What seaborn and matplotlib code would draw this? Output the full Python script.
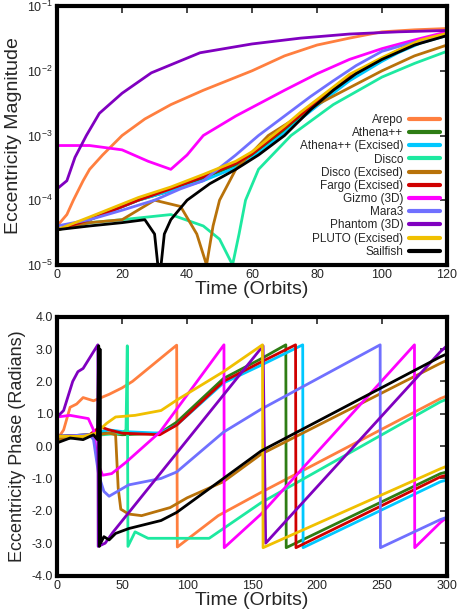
import numpy as np
import pandas as pd
import matplotlib
matplotlib.use("Agg")
import matplotlib.pyplot as plt
import seaborn as sns
from matplotlib.ticker import FixedLocator

sns.set_style("white")
plt.rcParams['font.family'] = ['Liberation Sans', 'DejaVu Sans']

names = ["Arepo", "Athena++", "Athena++ (Excised)", "Disco", "Disco (Excised)",
         "Fargo (Excised)", "Gizmo (3D)", "Mara3", "Phantom (3D)", "PLUTO (Excised)", "Sailfish"]
colors = ["#ff7f3f", "#2e7d14", "#00c8ff", "#1de9a0", "#b8720a",
          "#d00000", "#ff00ff", "#7070ff", "#8000c0", "#f0c000", "#000000"]

# ---- top panel: eccentricity magnitude ----
mag_arepo_t = [0, 3, 5, 8, 10, 14, 20, 27, 35, 45, 60, 70, 80, 90, 100, 110, 120]
mag_arepo_v = [4e-5, 6e-5, 1e-4, 2e-4, 3e-4, 5e-4, 1e-3, 1.8e-3, 3e-3, 5e-3, 1e-2, 1.7e-2, 2.5e-2, 3.2e-2, 4e-2, 4.3e-2, 4.5e-2]
mag_athena_t = [0, 10, 25, 35, 45, 55, 60, 70, 75, 85, 90, 100, 105, 112, 120]
mag_athena_v = [3.5e-5, 5e-5, 1e-4, 1.4e-4, 2.2e-4, 3.5e-4, 5e-4, 1.2e-3, 2e-3, 5e-3, 8e-3, 1.5e-2, 2e-2, 2.8e-2, 3.6e-2]
mag_athx_v = [3.5e-5, 5e-5, 1e-4, 1.4e-4, 2e-4, 3.2e-4, 4.5e-4, 1.1e-3, 1.8e-3, 4.5e-3, 7e-3, 1.4e-2, 1.9e-2, 2.7e-2, 3.5e-2]
mag_fargo_v = [3.5e-5, 5e-5, 1e-4, 1.5e-4, 2.3e-4, 3.7e-4, 5.2e-4, 1.3e-3, 2.1e-3, 5.2e-3, 8.3e-3, 1.55e-2, 2.05e-2, 2.9e-2, 3.7e-2]
mag_pluto_v = [3.5e-5, 5.5e-5, 1.1e-4, 1.6e-4, 2.5e-4, 4e-4, 5.6e-4, 1.4e-3, 2.3e-3, 5.6e-3, 8.8e-3, 1.6e-2, 2.1e-2, 3e-2, 3.8e-2]
mag_disco_t = [0, 10, 20, 35, 45, 50, 54, 56, 58, 62, 72, 85, 100, 110, 120]
mag_disco_v = [3.5e-5, 4.5e-5, 5e-5, 6e-5, 4e-5, 2.5e-5, 1e-5, 3e-5, 1e-4, 3e-4, 1e-3, 3e-3, 8e-3, 1.3e-2, 2e-2]
mag_discox_t = [0, 10, 20, 30, 38, 43, 46, 48, 50, 55, 65, 80, 100, 110, 120]
mag_discox_v = [3.5e-5, 4.5e-5, 5e-5, 1e-4, 8e-5, 3e-5, 1e-5, 4e-5, 1e-4, 3e-4, 1e-3, 3e-3, 1e-2, 1.7e-2, 2.5e-2]
mag_gizmo_t = [0, 10, 20, 28, 35, 40, 45, 55, 70, 80, 90, 100, 110, 120]
mag_gizmo_v = [7e-4, 7e-4, 6e-4, 4e-4, 3e-4, 5e-4, 1e-3, 2e-3, 5e-3, 9e-3, 1.5e-2, 2.2e-2, 3e-2, 4e-2]
mag_mara_t = [0, 10, 20, 30, 38, 45, 55, 62, 70, 78, 85, 92, 100, 110, 120]
mag_mara_v = [4e-5, 5e-5, 7e-5, 1e-4, 1.5e-4, 2e-4, 5e-4, 1e-3, 2e-3, 4e-3, 7e-3, 1.2e-2, 2e-2, 2.8e-2, 3.5e-2]
mag_phantom_t = [0, 3, 5.5, 9, 13, 20, 29, 44, 60, 75, 90, 105, 120]
mag_phantom_v = [1.5e-4, 2e-4, 4.6e-4, 1e-3, 2.2e-3, 4.5e-3, 9.3e-3, 1.9e-2, 2.6e-2, 3.2e-2, 3.7e-2, 4e-2, 4.2e-2]
mag_sail_t = [0, 10, 20, 27, 30, 31, 32, 33, 35, 40, 47, 55, 62, 70, 78, 85, 92, 100, 110, 120]
mag_sail_v = [3.5e-5, 4e-5, 4.5e-5, 5e-5, 3e-5, 1e-5, 1e-5, 3e-5, 5e-5, 1e-4, 1.8e-4, 3e-4, 5e-4, 1e-3, 2.5e-3, 5e-3, 9e-3, 1.5e-2, 2.5e-2, 3.5e-2]

mag_series = {
    "Arepo": (mag_arepo_t, mag_arepo_v),
    "Athena++": (mag_athena_t, mag_athena_v),
    "Athena++ (Excised)": (mag_athena_t, mag_athx_v),
    "Disco": (mag_disco_t, mag_disco_v),
    "Disco (Excised)": (mag_discox_t, mag_discox_v),
    "Fargo (Excised)": (mag_athena_t, mag_fargo_v),
    "Gizmo (3D)": (mag_gizmo_t, mag_gizmo_v),
    "Mara3": (mag_mara_t, mag_mara_v),
    "Phantom (3D)": (mag_phantom_t, mag_phantom_v),
    "PLUTO (Excised)": (mag_athena_t, mag_pluto_v),
    "Sailfish": (mag_sail_t, mag_sail_v),
}

# ---- bottom panel: eccentricity phase ----
ph = {
    "Arepo": [(0, 0.2), (5, 0.5), (10, 1.2), (15, 1.3), (20, 1.5), (28, 1.4), (40, 1.6), (50, 1.8), (58, 2.0), (92, 3.12), (92.5, -3.12), (124, -2.15), (157, -1.43), (295, 1.47), (300, 1.55)],
    "Athena++": [(0, 0.3), (25, 0.35), (33, 0.45), (40, 0.4), (50, 0.35), (79, 0.4), (92, 0.74), (128, 2.09), (157, 2.7), (176, 3.13), (176.3, -3.14), (295, -0.85), (300, -0.8)],
    "Athena++ (Excised)": [(0, 0.3), (25, 0.35), (33, 0.45), (40, 0.5), (50, 0.45), (79, 0.4), (92, 0.65), (128, 1.95), (157, 2.5), (189, 3.13), (189.3, -3.14), (295, -1.1), (300, -1.05)],
    "Disco": [(0, 0.2), (20, 0.3), (35, 0.35), (50, 0.4), (53, 0.5), (54, 3.1), (54.5, -3.1), (60, -2.65), (70, -2.85), (100, -2.85), (117, -2.85), (157, -1.75), (295, 1.37), (300, 1.45)],
    "Disco (Excised)": [(0, 0.2), (20, 0.3), (40, 0.4), (45, 0.35), (47, -1.3), (49, -1.95), (55, -2.1), (65, -2.15), (87, -1.9), (100, -1.6), (128, -1.1), (157, -0.25), (295, 2.56), (300, 2.65)],
    "Fargo (Excised)": [(0, 0.3), (25, 0.35), (33, 0.6), (40, 0.5), (50, 0.4), (79, 0.35), (92, 0.65), (128, 2.0), (157, 2.6), (183.5, 3.13), (183.8, -3.14), (295, -0.95), (300, -0.9)],
    "Gizmo (3D)": [(0, 0.9), (10, 0.95), (24, 0.85), (28, 0.5), (31, -0.5), (35, -0.9), (42, -0.85), (53, -0.5), (79, 0.43), (128.4, 3.13), (128.6, -3.14), (157, -2.1), (275, 3.13), (275.2, -3.14), (295, -2.36), (300, -2.2)],
    "Mara3": [(0, 0.3), (25, 0.35), (28, 0.2), (32, -0.9), (36, -1.4), (40, -1.55), (55, -1.2), (80, -1.0), (92, -0.8), (128, 0.43), (157, 1.14), (248.6, 3.13), (248.8, -3.14), (295, -2.27), (300, -2.2)],
    "Phantom (3D)": [(0, 0.9), (5, 1.1), (12, 2.0), (16, 2.3), (20, 2.4), (31.3, 3.13), (31.6, -3.1), (37, -3.0), (43, -2.66), (158.5, 3.1), (160.5, -3.0), (295, 2.92), (300, 3.1)],
    "PLUTO (Excised)": [(0, 0.3), (20, 0.3), (30, 0.4), (38, 0.7), (45, 0.9), (60, 0.95), (80, 1.1), (92, 1.42), (128, 2.3), (158, 3.13), (158.5, -3.14), (295, -0.7), (300, -0.62)],
    "Sailfish": [(0, 0.1), (10, 0.25), (20, 0.2), (28, 0.35), (31, 0.2), (32, 3.1), (32.5, -3.1), (33, 3.0), (33.5, -3.0), (36, -2.8), (40, -2.9), (45, -2.7), (55, -2.55), (80, -2.3), (92, -2.05), (128, -1.0), (157, -0.15), (295, 2.76), (300, 2.85)],
}

rows1 = []
for n in names:
    t, v = mag_series[n]
    rows1 += [dict(code=n, t=a, e=b) for a, b in zip(t, v)]
df1 = pd.DataFrame(rows1)
rows2 = []
for n in names:
    rows2 += [dict(code=n, t=a, p=b) for a, b in ph[n]]
df2 = pd.DataFrame(rows2)
pal = dict(zip(names, colors))

fig = plt.figure(figsize=(4.57, 6.09), dpi=100)
ax1 = fig.add_axes([0.125, 0.565, 0.853, 0.425])
ax2 = fig.add_axes([0.125, 0.055, 0.853, 0.425])

sns.lineplot(data=df1, x="t", y="e", hue="code", hue_order=names, palette=pal,
             ax=ax1, lw=2, sort=False, estimator=None)
sns.lineplot(data=df2, x="t", y="p", hue="code", hue_order=names, palette=pal,
             ax=ax2, lw=2, sort=False, estimator=None, legend=False)

ax1.set_yscale("log")
ax1.set_xlim(0, 120)
ax1.set_ylim(1e-5, 1e-1)
ax1.set_xticks(range(0, 121, 20))
ax1.yaxis.set_minor_locator(FixedLocator([]))
ax2.set_xlim(0, 300)
ax2.set_ylim(-4, 4)
ax2.set_xticks(range(0, 301, 50))
ax2.set_yticks(np.arange(-4, 4.01, 1))
ax2.set_yticklabels([f"{v:.1f}" for v in np.arange(-4, 4.01, 1)])

for ax in (ax1, ax2):
    for s in ax.spines.values():
        s.set_linewidth(3)
        s.set_color("black")
    ax.tick_params(direction="in", top=True, right=True, length=5, width=1.2,
                   labelsize=9, pad=3)
    ax.set_xlabel("Time (Orbits)", fontsize=14, labelpad=0)
ax1.set_ylabel("Eccentricity Magnitude", fontsize=14)
ax2.set_ylabel("Eccentricity Phase (Radians)", fontsize=13)

leg = ax1.legend(loc="lower right", frameon=False, fontsize=8.5, markerfirst=False,
                 handlelength=2.6, labelspacing=0.1, borderaxespad=0.2, handletextpad=0.5)
for h in leg.get_lines():
    h.set_linewidth(3)
leg._legend_box.align = "right"

fig.savefig("out.png", dpi=100)
